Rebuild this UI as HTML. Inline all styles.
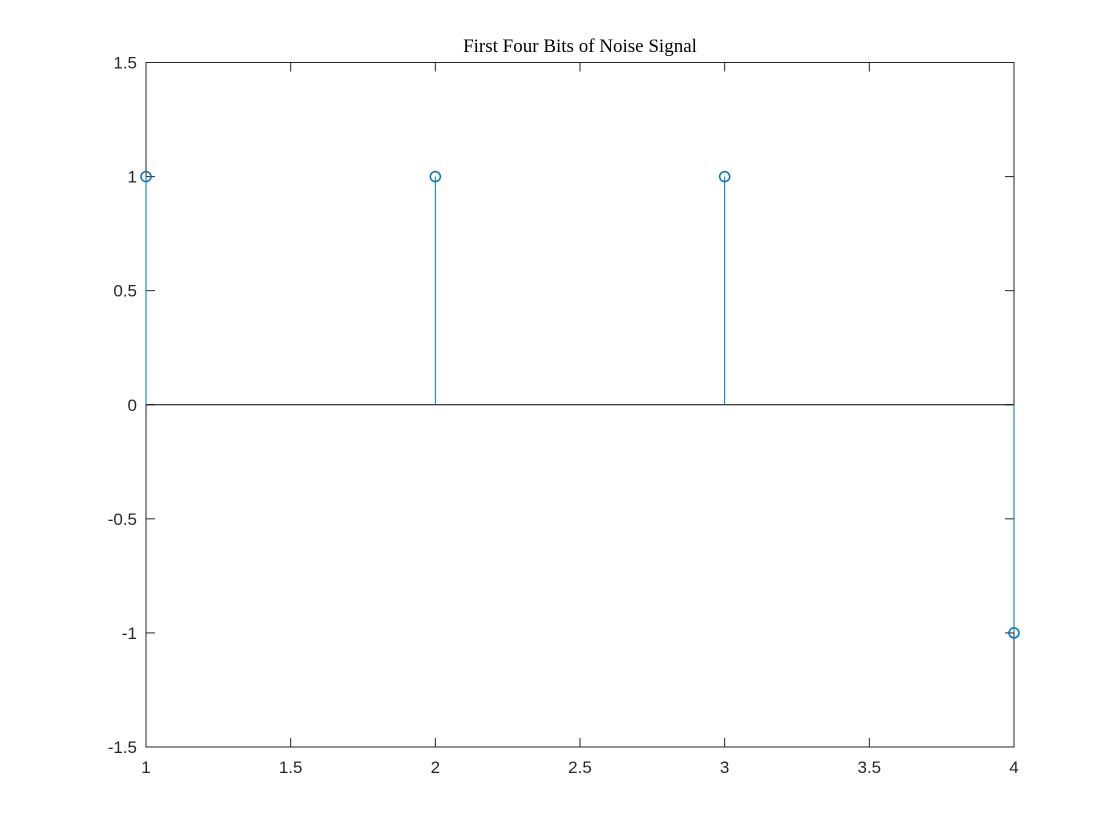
<!DOCTYPE html>
<html><head><meta charset="utf-8"><style>
body{margin:0;background:#fff;}
svg{display:block;}
text{font-family:"Liberation Sans",sans-serif;font-size:17px;fill:#262626;}
</style></head><body>
<svg width="1120" height="840">
<rect width="1120" height="840" fill="#fff"/>
<g id="chart"></g>
</svg>
<script>
const xs=[1,2,3,4];
const ys=[1,1,1,-1];
const xTicks=[1,1.5,2,2.5,3,3.5,4];
const yTicks=[-1.5,-1,-0.5,0,0.5,1,1.5];
const L=146,R=1014,T=62.5,B=747;
const sx=v=>L+(v-1)/3*(R-L);
const sy=v=>B-(v+1.5)/3*(B-T);
const g=document.getElementById('chart');
const NS='http://www.w3.org/2000/svg';
function mk(t,a,p){const e=document.createElementNS(NS,t);for(const k in a)e.setAttribute(k,a[k]);(p||g).appendChild(e);return e;}
const frame=mk('rect',{x:L,y:T,width:R-L,height:B-T,fill:'none',stroke:'#262626','stroke-width':1});


xTicks.forEach(v=>{const x=sx(v);
mk('line',{x1:x,x2:x,y1:B,y2:B-9,stroke:'#262626'});mk('line',{x1:x,x2:x,y1:T,y2:T+9,stroke:'#262626'});
const t=mk('text',{x:x,y:B+26,'text-anchor':'middle'});t.textContent=v;

});
yTicks.forEach(v=>{const y=sy(v);
mk('line',{x1:L,x2:L+9,y1:y,y2:y,stroke:'#262626'});mk('line',{x1:R,x2:R-9,y1:y,y2:y,stroke:'#262626'});
const t=mk('text',{x:L-9,y:y+6,'text-anchor':'end'});t.textContent=v;

});
const base=mk('line',{x1:L,x2:R,y1:sy(0),y2:sy(0),stroke:'#000','stroke-width':1});


xs.forEach((v,i)=>{const x=sx(v),y=sy(ys[i]);
const s=mk('line',{x1:x,x2:x,y1:sy(0),y2:y,stroke:'#0072BD','stroke-width':1});


const c=mk('circle',{cx:x,cy:y,r:5,fill:'none',stroke:'#0072BD','stroke-width':1.5});

});
const tt=mk('text',{x:(L+R)/2,y:52,'text-anchor':'middle',style:'font-family:"Liberation Serif",serif;font-size:19px;fill:#000'});
tt.textContent='First Four Bits of Noise Signal';


</script>
</body></html>
